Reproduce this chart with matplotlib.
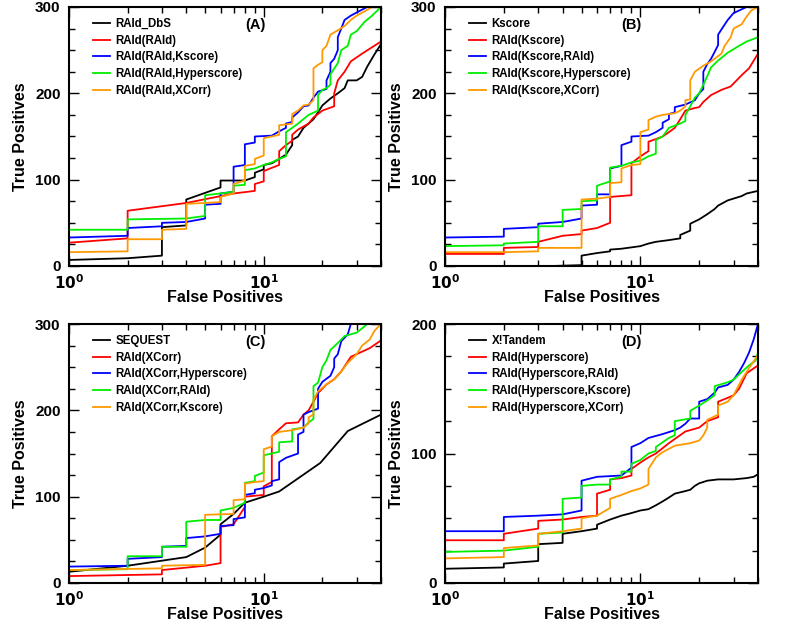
import matplotlib
matplotlib.use("Agg")
import matplotlib.pyplot as plt
from matplotlib.ticker import FixedLocator, LogLocator, NullFormatter

plt.rcParams['font.family'] = ['Liberation Sans', 'DejaVu Sans']

# ---------------- Panel A ----------------
a_labels = ["RAId_DbS", "RAId(RAId)", "RAId(RAId,Kscore)", "RAId(RAId,Hyperscore)", "RAId(RAId,XCorr)"]
a_black = [(1,7),(2,9),(3,12),(3,45),(4,47),(4,77),(6,91),(6,99),(8,99),(9,103),(9,108),(10,112),(10,117),
           (11,119),(12,124),(13,129),(14,140),(14,146),(15,150),(16,160),(17,165),(18,170),(19,178),(20,186),
           (22,194),(24,200),(26,206),(27,215),(30,215),(32,219),(34,231),(37,245),(40,257)]
a_red = [(1,27),(2,32),(2,64),(4,73),(7,84),(9,87),(9,95),(10,98),(10,110),(12,117),(12,133),(13,140),(14,145),
         (14,152),(15,158),(17,165),(18,172),(20,180),(23,185),(23,200),(24,215),(26,225),(28,237),(32,246),(40,260)]
a_blue = [(1,33),(2,35),(2,44),(3,46),(3,50),(4,51),(5,55),(5,71),(6,72),(6,84),(7,86),(7,115),(8,117),(8,141),
          (9,143),(9,150),(11,151),(12,156),(13,160),(13,165),(14,167),(14,172),(15,178),(16,185),(17,186),
          (18,195),(19,202),(21,205),(21,215),(22,225),(22,235),(23,240),(24,250),(24,265),(25,275),(26,285),
          (28,290),(32,297),(34,300)]
a_green = [(1,42),(2,42),(2,54),(4,55),(5,58),(5,82),(6,84),(7,86),(7,93),(8,94),(8,111),(9,113),(10,117),
           (11,120),(12,124),(13,127),(13,155),(14,160),(15,165),(17,175),(19,180),(19,198),(20,204),(21,206),
           (22,210),(22,222),(24,235),(25,250),(27,255),(28,268),(30,272),(33,283),(36,290),(40,300)]
a_orange = [(1,16),(2,17),(2,31),(3,31),(3,42),(4,43),(4,72),(6,74),(6,80),(7,84),(7,95),(8,99),(8,116),(9,118),
            (9,124),(10,128),(10,148),(12,152),(12,163),(14,165),(14,176),(15,180),(16,186),(17,187),(18,192),
            (18,229),(19,233),(20,236),(20,250),(21,255),(22,268),(24,273),(26,278),(28,285),(30,290),(33,295),(36,300)]

# ---------------- Panel B ----------------
b_labels = ["Kscore", "RAId(Kscore)", "RAId(Kscore,RAId)", "RAId(Kscore,Hyperscore)", "RAId(Kscore,XCorr)"]
b_black = [(3.5,0),(5,1),(5,12),(6,15),(7,17),(7,19),(8,20),(10,23),(11,26),(12,28),(14,30),(16,32),(16,36),
           (18,41),(18,49),(20,54),(22,60),(24,66),(25,70),(28,76),(33,81),(35,84),(40,87)]
b_red = [(1,14),(2,14),(2,21),(3,22),(3,28),(4,35),(5,37),(5,41),(6,44),(7,50),(7,80),(9,82),(9,119),(10,127),
         (11,133),(11,144),(12,147),(13,150),(14,155),(15,160),(16,170),(17,180),(19,183),(20,184),(21,190),
         (23,198),(26,204),(29,208),(33,221),(36,229),(40,246)]
b_blue = [(1,33),(2,34),(2,43),(3,45),(3,49),(4,51),(5,55),(5,70),(6,71),(6,83),(7,83),(7,113),(8,116),(8,140),
          (9,144),(9,150),(11,151),(12,155),(13,160),(13,166),(14,170),(14,176),(15,178),(15,184),(17,187),
          (19,192),(20,200),(21,205),(21,225),(22,234),(23,240),(24,248),(25,256),(25,268),(26,274),(28,285),
          (30,293),(35,300)]
b_green = [(1,23),(2,24),(2,26),(3,28),(3,46),(4,46),(4,65),(5,66),(5,75),(6,76),(6,93),(7,98),(7,114),(8,116),
           (9,120),(10,122),(11,127),(12,130),(12,146),(13,150),(14,160),(16,165),(17,168),(17,175),(18,185),
           (19,195),(20,200),(21,210),(22,220),(23,230),(25,238),(28,247),(32,255),(35,260),(40,265)]
b_orange = [(1,16),(2,16),(3,17),(3,21),(5,21),(5,77),(6,78),(7,80),(7,96),(8,97),(8,113),(9,117),(10,118),
            (10,155),(11,158),(11,169),(12,173),(13,175),(15,177),(16,180),(17,185),(17,192),(18,193),(18,215),
            (19,225),(21,232),(23,237),(26,246),(27,255),(29,265),(30,275),(33,280),(35,289),(37,296),(40,300)]

# ---------------- Panel C ----------------
c_labels = ["SEQUEST", "RAId(XCorr)", "RAId(XCorr,Hyperscore)", "RAId(XCorr,RAId)", "RAId(XCorr,Kscore)"]
c_black = [(1,13),(2,20),(4,30),(5,41),(6,56),(6,68),(7,80),(8,93),(10,100),(12,106),(19.5,139),(27,176),(40,195)]
c_red = [(1,8),(3,10),(3,15),(5,20),(6,23),(6,65),(7,68),(8,88),(8,100),(10,102),(10,112),(11,117),(11,170),
         (12,178),(13,185),(15,186),(16,195),(17,200),(18,210),(19,220),(21,230),(23,236),(25,245),(28,262),
         (32,268),(35,272),(40,281)]
c_blue = [(1,19),(2,20),(2,28),(3,30),(3,42),(4,43),(4,52),(5,54),(6,57),(6,66),(7,67),(7,74),(8,76),(8,102),
          (9,104),(9,108),(10,110),(11,113),(11,118),(12,120),(12,140),(13,145),(15,150),(15,172),(16,175),
          (16,195),(17,198),(18,200),(19,202),(19,225),(20,233),(22,240),(23,250),(23,260),(24,265),(25,280),
          (27,288),(28,300)]
c_green = [(1,15),(2,16),(2,31),(3,31),(3,42),(4,42),(4,71),(5,73),(6,73),(6,84),(7,87),(8,93),(8,116),(9,118),
           (9,124),(10,128),(10,148),(11,150),(12,152),(12,163),(14,164),(14,178),(16,180),(17,186),(18,190),
           (18,228),(19,232),(20,250),(21,258),(22,270),(24,278),(26,286),(30,290),(32,295),(34,300)]
c_orange = [(1,15),(3,17),(3,20),(5,21),(5,79),(7,80),(7,96),(8,97),(8,115),(9,117),(10,118),(10,155),(11,158),
            (11,170),(12,175),(14,177),(16,180),(17,185),(17,192),(18,195),(18,212),(19,222),(21,230),(23,236),
            (25,245),(27,255),(30,265),(32,275),(35,282),(37,292),(40,300)]

# ---------------- Panel D ----------------
d_labels = ["X!Tandem", "RAId(Hyperscore)", "RAId(Hyperscore,RAId)", "RAId(Hyperscore,Kscore)", "RAId(Hyperscore,XCorr)"]
d_black = [(1,11),(2,12),(2,15),(3,17),(3,30),(4,31),(4,38),(5,40),(6,42),(6,45),(7,49),(8,52),(9,54),(10,56),
           (11,57),(12,60),(13,63),(14,66),(15,69),(17,71),(18,72),(19,75),(20,77),(22,79),(25,80),(30,80),
           (35,81),(38,82),(40,84)]
d_red = [(1,33),(2,33),(2,38),(3,42),(3,48),(4,49),(5,51),(6,52),(6,69),(7,72),(7,80),(8,81),(9,83),(9,88),
         (10,93),(11,97),(12,100),(14,108),(17,117),(20,120),(22,125),(25,128),(25,140),(28,143),(30,145),
         (32,150),(35,162),(40,168)]
d_blue = [(1,40),(2,40),(2,51),(3,52),(4,53),(5,56),(5,79),(6,82),(8,83),(9,89),(9,105),(10,108),(11,112),
          (13,115),(15,118),(16,120),(17,123),(18,127),(20,127),(20,140),(22,142),(24,147),(25,151),(28,153),
          (30,157),(32,163),(34,170),(36,178),(38,188),(40,200)]
d_green = [(1,24),(2,25),(3,28),(3,38),(4,39),(4,65),(5,66),(5,75),(6,76),(7,76),(7,80),(8,82),(8,86),(9,86),
           (9,92),(10,95),(11,100),(12,102),(12,105),(14,112),(15,114),(15,125),(18,127),(18,133),(20,137),
           (22,141),(24,145),(24,152),(28,155),(30,157),(33,163),(36,168),(39,172),(40,178)]
d_orange = [(1,19),(2,20),(2,27),(3,29),(3,38),(4,40),(5,42),(5,50),(6,52),(7,58),(7,65),(8,68),(9,71),(10,73),
            (11,76),(11,88),(12,97),(13,101),(15,106),(18,108),(20,110),(21,114),(22,120),(22,126),(25,130),
            (25,137),(28,140),(30,145),(33,157),(36,166),(40,176)]

colors = ['black', '#ff0000', '#0000ff', '#00ee00', '#ff9900']

panels = [
    ("(A)", a_labels, [a_black, a_red, a_blue, a_green, a_orange], 300),
    ("(B)", b_labels, [b_black, b_red, b_blue, b_green, b_orange], 300),
    ("(C)", c_labels, [c_black, c_red, c_blue, c_green, c_orange], 300),
    ("(D)", d_labels, [d_black, d_red, d_blue, d_green, d_orange], 200),
]

W, H = 785, 622
fig = plt.figure(figsize=(W/100, H/100), dpi=100)
rects = [(69, 7, 312, 259), (445, 7, 313, 259), (69, 324, 312, 259), (445, 324, 313, 259)]

for (tag, labels, series, ymax), (l, t, w, h) in zip(panels, rects):
    ax = fig.add_axes([l/W, 1 - (t+h)/H, w/W, h/H])
    for lab, pts, col in zip(labels, series, colors):
        xs = [p[0] for p in pts]
        ys = [p[1] for p in pts]
        ax.plot(xs, ys, color=col, lw=1.3, label=lab)
    ax.set_xscale('log')
    ax.set_xlim(1, 40)
    ax.set_ylim(0, ymax)
    ax.xaxis.set_major_locator(FixedLocator([1, 10]))
    ax.xaxis.set_minor_locator(LogLocator(base=10, subs=range(2, 10)))
    ax.xaxis.set_minor_formatter(NullFormatter())
    ax.set_xticklabels([r'$\mathbf{10^{0}}$', r'$\mathbf{10^{1}}$'])
    ax.set_yticks([0, 100, 200, 300] if ymax == 300 else [0, 100, 200])
    ax.yaxis.set_minor_locator(FixedLocator(list(range(0, ymax + 1, 25))))
    ax.tick_params(which='both', direction='in', top=True, right=True, width=1.0)
    ax.tick_params(which='major', length=7, labelsize=11)
    ax.tick_params(axis='x', which='major', pad=5)
    ax.tick_params(axis='y', which='major', pad=6)
    ax.tick_params(which='minor', length=4)
    for lab in ax.get_yticklabels():
        lab.set_fontweight('bold')
    for sp in ax.spines.values():
        sp.set_linewidth(1.5)
    ax.set_xlabel("False Positives", fontsize=11.5, fontweight='bold', labelpad=-1)
    ax.set_ylabel("True Positives", fontsize=11.5, fontweight='bold', labelpad=5)
    ax.legend(loc='upper left', bbox_to_anchor=(0.055, 0.985), frameon=False,
              prop={'size': 8.3, 'weight': 'bold'},
              handlelength=1.45, handletextpad=0.5, labelspacing=0.42, borderaxespad=0.2)
    ax.text(0.597, 0.93, tag, transform=ax.transAxes, fontsize=10.5, fontweight='bold',
            ha='center', va='center')

fig.savefig("out.png", dpi=100)
